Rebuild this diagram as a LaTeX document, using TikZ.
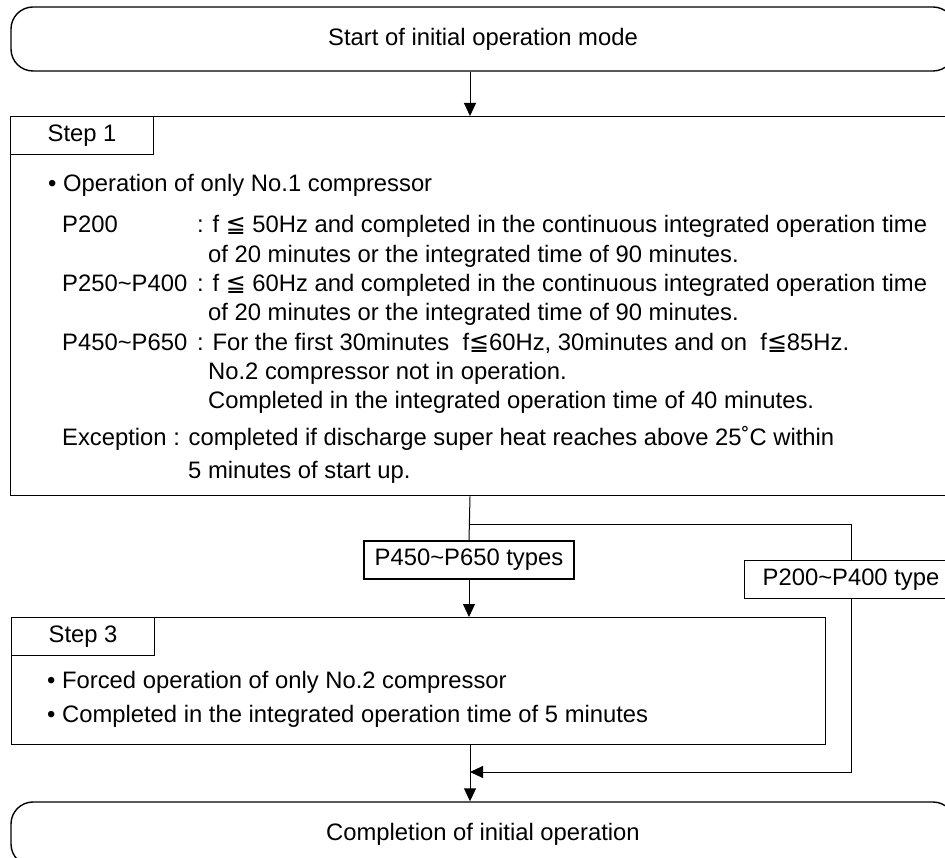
\documentclass[tikz,border=0pt]{standalone}
\usepackage{fontspec}
\setmainfont{Liberation Sans}
\newfontfamily\dejavu{DejaVu Sans}
\newcommand{\lesym}{{\dejavu ≦}}
\newcommand{\wave}{\textasciitilde}
\newcommand{\labcol}[1]{\makebox[135pt][l]{#1}}
\usetikzlibrary{arrows.meta, positioning}
\tikzset{
  arrow/.style = {line width=1pt, -{Triangle[length=13pt,width=12pt]}},
  link/.style = {line width=1pt},
  termbox/.style = {draw, line width=1.4pt, rounded corners=22pt, minimum width=944pt, minimum height=64pt},
  stepbox/.style = {draw, line width=1.4pt, anchor=north west},
  steplabel/.style = {draw, line width=1.2pt, anchor=north west, minimum width=143pt, minimum height=38pt},
  typebox/.style = {draw, line width=1.2pt, minimum height=38pt},
  txt/.style = {anchor=base west, inner sep=0pt},
}

\begin{document}
\begin{tikzpicture}[x=1pt, y=-1pt, font=\fontsize{23.8}{28}\selectfont]
    \useasboundingbox (0,0) rectangle (945,858);
    \clip (0,0) rectangle (945,858);
    \coordinate (mid) at (470,0);

    % Start
    \node[termbox] (start) at (483,39) {Start of initial operation mode};

    % Step 1
    \node[stepbox, minimum width=945pt, minimum height=379pt] (step1) at (10,116) {};
    \node[steplabel] (label1) at (step1.north west) {Step 1};
    \node[txt] (s1a) at (48,192) {• Operation of only No.1 compressor};
    \node[txt] (s1b) at (62,233) {\labcol{P200}: f \lesym\ 50Hz and completed in the continuous integrated operation time};
    \node[txt] (s1c) at (208,263) {of 20 minutes or the integrated time of 90 minutes.};
    \node[txt] (s1d) at (62,292) {\labcol{P250\wave P400}: f \lesym\ 60Hz and completed in the continuous integrated operation time};
    \node[txt] (s1e) at (208,321) {of 20 minutes or the integrated time of 90 minutes.};
    \node[txt] (s1f) at (62,351) {\labcol{P450\wave P650}: For the first 30minutes\ \ f\lesym 60Hz, 30minutes and on\ \ f\lesym 85Hz.};
    \node[txt] (s1g) at (208,380) {No.2 compressor not in operation.};
    \node[txt] (s1h) at (208,409) {Completed in the integrated operation time of 40 minutes.};
    \node[txt] (s1i) at (62,445) {Exception : completed if discharge super heat reaches above 25˚C within};
    \node[txt] (s1j) at (188,478) {5 minutes of start up.};

    % Branch types
    \node[typebox, minimum width=210pt] (big) at (469,560) {P450\wave P650 types};
    \node[typebox, minimum width=213pt] (small) at (851,579.5) {P200\wave P400 type};

    % Step 3
    \node[stepbox, minimum width=814pt, minimum height=127pt] (step3) at (11,617) {};
    \node[steplabel] (label3) at (step3.north west) {Step 3};
    \node[txt] (s3a) at (47,688) {• Forced operation of only No.2 compressor};
    \node[txt] (s3b) at (47,722) {• Completed in the integrated operation time of 5 minutes};

    % Completion
    \node[termbox] (finish) at (483,834) {Completion of initial operation};

    % Edges
    \coordinate (fork) at (470,524);
    \coordinate (join) at (470,772);
    \draw[arrow] (start.south -| mid) -- (step1.north -| mid);
    \draw[link] (step1.south -| mid) -- (big.north);
    \draw[link] (fork) -- (fork -| small) -- (small.north);
    \draw[arrow] (big.south) -- (step3.north -| big);
    \draw[arrow] (small.south) -- (small |- join) -- (join);
    \draw[arrow] (step3.south -| mid) -- (finish.north -| mid);
\end{tikzpicture}
\end{document}
